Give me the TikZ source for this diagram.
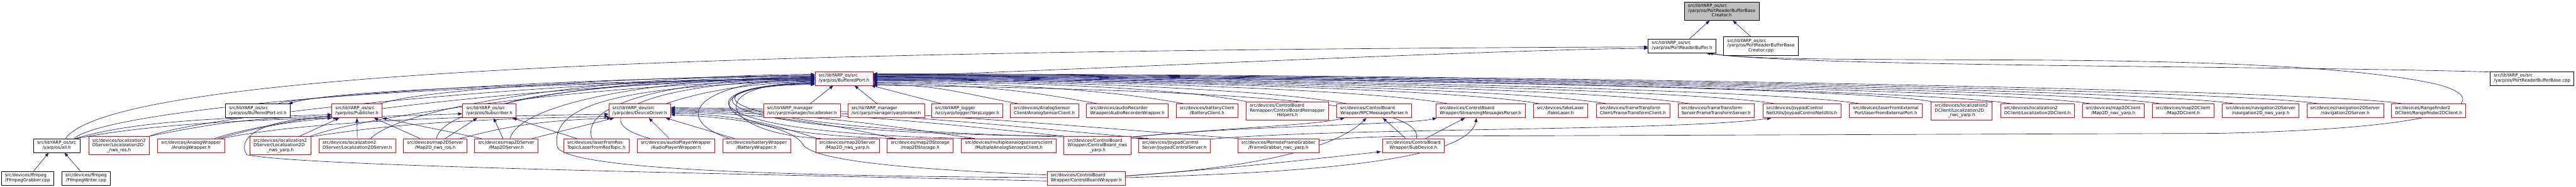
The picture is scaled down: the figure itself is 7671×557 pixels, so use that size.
\documentclass[tikz,border=0pt]{standalone}
\usepackage{fontspec}
\setmainfont{DejaVu Sans}
\usetikzlibrary{arrows.meta,calc}
\pgfdeclarelayer{bg}
\pgfsetlayers{bg,main}
\definecolor{navy}{HTML}{191970}
\definecolor{rootgray}{HTML}{BFBFBF}
\newcommand{\twol}[2]{\begin{tabular}{@{}l@{}}#1\\\multicolumn{1}{@{}c@{}}{#2}\end{tabular}}
\newcommand{\thrl}[3]{\begin{tabular}{@{}l@{}}#1\\#2\\\multicolumn{1}{@{}c@{}}{#3}\end{tabular}}
\newcommand{\fanR}[4]{\draw[e] ($(#1.north west)+(#2,0)$) .. controls +(-200,-38) and +(#3,2) .. (bp.#4);}
\tikzset{
  box/.style={draw=red, line width=1.3pt, fill=white, inner xsep=11pt, inner ysep=6.5pt,
    font=\fontsize{13}{14}\selectfont},
  blk/.style={box, draw=black},
  rootbox/.style={box, draw=black, fill=rootgray},
  e/.style={draw=navy, line width=1.2pt, -{Triangle[length=12pt,width=9pt]}},
}
\begin{document}
\begin{tikzpicture}[x=1pt,y=-1pt]
\useasboundingbox (0,0) rectangle (7671,557);
% ---------- nodes ----------
\node[rootbox] (creatorh) at (5127,33) {\thrl{src/libYARP\_os/src}{/yarp/os/PortReaderBufferBase}{Creator.h}};
\node[blk] (prb) at (5009,137) {\twol{src/libYARP\_os/src}{/yarp/os/PortReaderBuffer.h}};
\node[blk] (creatorcpp) at (5244,137) {\thrl{src/libYARP\_os/src}{/yarp/os/PortReaderBufferBase}{Creator.cpp}};
\node[box] (bp) at (2513.5,234) {\twol{src/libYARP\_os/src}{/yarp/os/BufferedPort.h}};
\node[blk] (prbbcpp) at (7540,234) {\twol{src/libYARP\_os/src}{/yarp/os/PortReaderBufferBase.cpp}};
% row 3
\node[blk] (bpinl) at (768,331) {\twol{src/libYARP\_os/src}{/yarp/os/BufferedPort-inl.h}};
\node[box] (pub) at (1063,331) {\twol{src/libYARP\_os/src}{/yarp/os/Publisher.h}};
\node[box] (sub) at (1457,331) {\twol{src/libYARP\_os/src}{/yarp/os/Subscriber.h}};
\node[box] (dd) at (1905,331) {\twol{src/libYARP\_dev/src}{/yarp/dev/DeviceDriver.h}};
\node[box] (lbroker) at (2388,331) {\twol{src/libYARP\_manager}{/src/yarp/manager/localbroker.h}};
\node[box] (ybroker) at (2639,331) {\twol{src/libYARP\_manager}{/src/yarp/manager/yarpbroker.h}};
\node[box] (ylogger) at (2880,331) {\twol{src/libYARP\_logger}{/src/yarp/logger/YarpLogger.h}};
\node[box] (asclient) at (3110,331) {\twol{src/devices/AnalogSensor}{Client/AnalogSensorClient.h}};
\node[box] (audiorec) at (3357,331) {\twol{src/devices/audioRecorder}{Wrapper/AudioRecorderWrapper.h}};
\node[box] (battclient) at (3594.5,331) {\twol{src/devices/batteryClient}{/BatteryClient.h}};
\node[box] (cbrh) at (3833.5,331) {\thrl{src/devices/ControlBoard}{Remapper/ControlBoardRemapper}{Helpers.h}};
\node[box] (rpc) at (4092,331) {\twol{src/devices/ControlBoard}{Wrapper/RPCMessagesParser.h}};
\node[box] (stream) at (4409,331) {\twol{src/devices/ControlBoard}{Wrapper/StreamingMessagesParser.h}};
\node[box] (fakelaser) at (4647,331) {\twol{src/devices/fakeLaser}{/fakeLaser.h}};
\node[box] (ftclient) at (4862.5,331) {\twol{src/devices/frameTransform}{Client/FrameTransformClient.h}};
\node[box] (ftserver) at (5110.5,331) {\twol{src/devices/frameTransform}{Server/FrameTransformServer.h}};
\node[box] (joynet) at (5365.5,331) {\twol{src/devices/JoypadControl}{NetUtils/JoypadControlNetUtils.h}};
\node[box] (laserext) at (5616,331) {\twol{src/devices/laserFromExternal}{Port/laserFromExternalPort.h}};
\node[box] (locnwc) at (5841,331) {\thrl{src/devices/localization2}{DClient/Localization2D}{\_nwc\_yarp.h}};
\node[box] (locclient) at (6067,331) {\twol{src/devices/localization2}{DClient/Localization2DClient.h}};
\node[box] (mapnwc) at (6293,331) {\twol{src/devices/map2DClient}{/Map2D\_nwc\_yarp.h}};
\node[box] (mapclient) at (6501,331) {\twol{src/devices/map2DClient}{/Map2DClient.h}};
\node[box] (navnws) at (6732,331) {\twol{src/devices/navigation2DServer}{/navigation2D\_nws\_yarp.h}};
\node[box] (navserver) at (6983.5,331) {\twol{src/devices/navigation2DServer}{/navigation2DServer.h}};
\node[box] (rangefinder) at (7232,331) {\twol{src/devices/Rangefinder2}{DClient/Rangefinder2DClient.h}};
% row 4
\node[blk] (allh) at (169,434.5) {\twol{src/libYARP\_os/src}{/yarp/os/all.h}};
\node[box] (locnwsros) at (354.5,434.5) {\thrl{src/devices/localization2}{DServer/Localization2D}{\_nws\_ros.h}};
\node[box] (awrapper) at (569,434.5) {\twol{src/devices/AnalogWrapper}{/AnalogWrapper.h}};
\node[box] (locnwsyarp) at (834.5,434.5) {\thrl{src/devices/localization2}{DServer/Localization2D}{\_nws\_yarp.h}};
\node[box] (locserver) at (1064,434.5) {\twol{src/devices/localization2}{DServer/Localization2DServer.h}};
\node[box] (mapnwsros) at (1296,434.5) {\twol{src/devices/map2DServer}{/Map2D\_nws\_ros.h}};
\node[box] (mapserver) at (1508,434.5) {\twol{src/devices/map2DServer}{/Map2DServer.h}};
\node[box] (laserros) at (1776,434.5) {\twol{src/devices/laserFromRos}{Topic/LaserFromRosTopic.h}};
\node[box] (aplayer) at (2013,434.5) {\twol{src/devices/audioPlayerWrapper}{/AudioPlayerWrapper.h}};
\node[box] (bwrapper) at (2253,434.5) {\twol{src/devices/batteryWrapper}{/BatteryWrapper.h}};
\node[box] (mapnwsyarp) at (2523.5,434.5) {\twol{src/devices/map2DServer}{/Map2D\_nws\_yarp.h}};
\node[box] (mapstorage) at (2740,434.5) {\twol{src/devices/map2DStorage}{/map2DStorage.h}};
\node[box] (masclient) at (3004,434.5) {\twol{src/devices/multipleanalogsensorsclient}{/MultipleAnalogSensorsClient.h}};
\node[box] (cbnws) at (3268,434.5) {\thrl{src/devices/ControlBoard}{Wrapper/ControlBoard\_nws}{\_yarp.h}};
\node[box] (joyserver) at (3497,434.5) {\twol{src/devices/JoypadControl}{Server/JoypadControlServer.h}};
\node[box] (fgnwc) at (3807,434.5) {\twol{src/devices/RemoteFrameGrabber}{/FrameGrabber\_nwc\_yarp.h}};
\node[box] (subdev) at (4209,434.5) {\twol{src/devices/ControlBoard}{Wrapper/SubDevice.h}};
% row 5
\node[blk] (ffgrab) at (82,532) {\twol{src/devices/ffmpeg}{/FfmpegGrabber.cpp}};
\node[blk] (ffwrite) at (256.5,532) {\twol{src/devices/ffmpeg}{/FfmpegWriter.cpp}};
\node[box] (cbwrapper) at (3235,532) {\twol{src/devices/ControlBoard}{Wrapper/ControlBoardWrapper.h}};
% ---------- edges ----------
\begin{pgfonlayer}{bg}
\fill[white] (0,0) rectangle (7671,557);
% root
\draw[e] ($(prb.north)+(22,0)$) -- ($(creatorh.south)+(-36,0)$);
\draw[e] ($(creatorcpp.north)+(-31,0)$) -- ($(creatorh.south)+(33,0)$);
% to PortReaderBuffer
\draw[e] ($(allh.north)+(26,0)$) .. controls (350,200) and (2400,150) .. ($(prb.west)+(0,3)$);
\draw[e] ($(bp.east)+(0,-5)$) .. controls (3300,205) and (4400,150) .. ($(prb.west)+(0,7)$);
\draw[e] ($(prbbcpp.north west)+(0,2)$) .. controls (6800,196) and (5350,200) .. ($(prb.south)+(72,0)$);
\draw[e] ($(fgnwc.east)+(0,-15)$) .. controls (4020,412) and (4080,406) .. (4300,406) -- (6600,398)
  .. controls (7390,382) and (7420,290) .. (7250,250) .. controls (7000,195) and (6500,181) .. (6000,179)
  .. controls (5500,177) and (5200,178) .. ($(prb.south)+(80,0)$);
% BufferedPort <-> BufferedPort-inl
\draw[e] ($(bp.west)+(0,-2)$) .. controls (1600,250) and (1000,268) .. ($(bpinl.north east)+(-6,0)$);
\draw[e] ($(bpinl.north east)+(-38,0)$) .. controls (900,282) and (1700,246) .. ($(bp.west)+(0,1)$);
% BufferedPort bottom
\draw[e] ($(lbroker.north)+(24,0)$) -- ($(bp.south)+(-32,0)$);
\draw[e] ($(ybroker.north)+(-27,0)$) -- ($(bp.south)+(31,0)$);
\draw[e] ($(ylogger.north west)+(32,0)$) -- ($(bp.south east)+(-6,0)$);
% fan into BufferedPort from the right
\fanR{asclient}{26}{196}{-12}
\fanR{audiorec}{35}{302}{-10}
\fanR{battclient}{25}{418}{-8}
\fanR{cbrh}{0}{500}{-6}
\fanR{rpc}{33}{636}{-4}
\fanR{stream}{37}{771}{-3}
\fanR{fakelaser}{21}{894}{-2}
\fanR{ftclient}{33}{984}{-1}
\fanR{ftserver}{36}{1095}{0}
\fanR{joynet}{38}{1209}{1}
\fanR{laserext}{32}{1323}{2}
\fanR{locnwc}{0}{1418}{3}
\fanR{locclient}{34}{1526}{4}
\fanR{mapnwc}{26}{1632}{5}
\fanR{mapclient}{26}{1726}{6}
\fanR{navnws}{36}{1824}{7}
\fanR{navserver}{36}{1938}{8}
\fanR{rangefinder}{35}{2051}{9}
\draw[e] ($(subdev.north)+(9,0)$) .. controls (4245,300) and (3600,268) .. (bp.-13);
% into BufferedPort from the left
\draw[e] ($(allh.north east)+(-18,0)$) .. controls +(110,-95) and +(-900,2) .. (bp.176);
\draw[e] ($(pub.north east)+(-5,0)$) .. controls +(120,-45) and +(-500,3) .. (bp.174);
\draw[e] ($(sub.north east)+(-30,0)$) .. controls +(100,-40) and +(-350,3) .. (bp.178);
\draw[e] ($(dd.north east)+(-15,0)$) .. controls +(100,-35) and +(-200,5) .. (bp.186);
\draw[e] (locnwsros.north east) .. controls +(150,-60) and +(-800,3) .. (bp.180);
\draw[e] ($(awrapper.north east)+(-30,0)$) .. controls +(200,-70) and +(-700,4) .. (bp.182);
\draw[e] (locnwsyarp.north east) .. controls +(150,-60) and +(-600,4) .. (bp.184);
\draw[e] ($(locserver.north east)+(-75,0)$) .. controls +(100,-100) and +(-600,4) .. (bp.172);
\draw[e] ($(mapnwsros.north)+(4,0)$) .. controls +(20,-120) and +(-500,4) .. (bp.175);
\draw[e] ($(mapserver.north)+(11,0)$) .. controls +(30,-110) and +(-450,4) .. (bp.177);
\draw[e] ($(laserros.north west)+(85,0)$) .. controls +(-40,-110) and +(-400,4) .. (bp.179);
\draw[e] ($(aplayer.north west)+(38,0)$) .. controls +(-220,-60) and +(-500,5) .. (bp.183);
\draw[e] ($(bwrapper.north west)+(20,0)$) .. controls +(-180,-60) and +(-350,5) .. (bp.181);
\draw[e] ($(mapnwsyarp.north west)+(17,0)$) .. controls (2150,400) and (2080,250) .. (bp.188);
\draw[e] ($(mapstorage.north west)+(28,0)$) .. controls (2050,400) and (2060,250) .. (bp.190);
\draw[e] ($(masclient.north west)+(40,0)$) .. controls (2000,400) and (2050,250) .. (bp.191);
\draw[e] (cbnws.north west) .. controls (2000,398) and (2040,252) .. (bp.192);
\draw[e] ($(joyserver.north west)+(30,0)$) .. controls (2000,396) and (2030,254) .. (bp.189);
\draw[e] ($(cbwrapper.west)+(0,-2)$) .. controls (2300,525) and (1700,505) .. (1660,440)
  .. controls (1630,300) and (1900,255) .. (bp.185);
% DeviceDriver
\draw[e] ($(awrapper.north east)+(-10,0)$) .. controls +(250,-50) and +(-500,8) .. (dd.186);
\draw[e] ($(locnwsyarp.north east)+(0,2)$) .. controls +(250,-40) and +(-400,8) .. (dd.190);
\draw[e] ($(mapnwsros.north east)+(-20,0)$) .. controls +(150,-40) and +(-200,8) .. (dd.194);
\draw[e] ($(mapserver.north east)+(-18,0)$) -- ($(dd.south west)+(16,0)$);
\draw[e] ($(aplayer.north)+(-20,0)$) -- ($(dd.south)+(27,0)$);
\draw[e] ($(bwrapper.north west)+(36,0)$) -- ($(dd.south east)+(-15,0)$);
\draw[e] ($(mapnwsyarp.north west)+(5,0)$) .. controls +(-120,-40) and +(200,5) .. (dd.-4);
\draw[e] ($(mapstorage.north west)+(24,0)$) .. controls +(-200,-45) and +(300,6) .. (dd.-2);
\draw[e] ($(masclient.north west)+(40,0)$) .. controls +(-300,-45) and +(400,6) .. (dd.0);
\draw[e] (cbnws.north west) .. controls +(-400,-40) and +(500,6) .. (dd.2);
\draw[e] ($(joyserver.north west)+(30,0)$) .. controls +(-500,-45) and +(600,6) .. (dd.4);
\draw[e] ($(fgnwc.north west)+(2,0)$) .. controls +(-600,-45) and +(700,6) .. (dd.6);
\draw[e] ($(cbwrapper.west)+(0,-10)$) .. controls (2700,505) and (2420,480) .. (2390,430)
  .. controls (2360,380) and (2200,350) .. (dd.-7);
% Publisher
\draw[e] ($(allh.north east)+(-14,0)$) .. controls +(200,-60) and +(-250,10) .. (pub.188);
\draw[e] (locnwsros.north east) .. controls +(250,-50) and +(-200,5) .. (pub.192);
\draw[e] ($(awrapper.north east)+(-20,0)$) .. controls +(150,-40) and +(-150,15) .. (pub.south west);
\draw[e] ($(locnwsyarp.north east)+(-33,0)$) -- ($(pub.south west)+(23,0)$);
\draw[e] (locserver.north) -- (pub.south);
\draw[e] ($(mapnwsros.north west)+(50,0)$) -- ($(pub.south)+(51,0)$);
\draw[e] ($(mapserver.north west)+(21,0)$) -- (pub.south east);
\draw[e] ($(cbwrapper.west)+(0,8)$) .. controls (2000,515) and (900,495) .. (735,462)
  .. controls (705,420) and (760,350) .. (pub.200);
% Subscriber
\draw[e] ($(allh.north east)+(-10,0)$) .. controls +(300,-60) and +(-400,15) .. (sub.186);
\draw[e] ($(mapnwsros.north)+(30,0)$) -- ($(sub.south)+(-36,0)$);
\draw[e] ($(mapserver.north west)+(85,0)$) -- ($(sub.south)+(13,0)$);
\draw[e] ($(laserros.north west)+(39,0)$) -- ($(sub.south east)+(-11,0)$);
% ControlBoard wrapper family
\draw[e] ($(joyserver.north east)+(0,2)$) .. controls (4000,380) and (5000,392) .. ($(joynet.south west)+(26,0)$);
\draw[e] ($(cbnws.north east)+(0,3)$) .. controls (3700,378) and (3900,375) .. ($(rpc.south west)+(24,0)$);
\draw[e] ($(cbnws.north east)+(0,3)$) .. controls (3700,375) and (4200,372) .. ($(stream.south west)+(2,0)$);
\draw[e] ($(subdev.north west)+(70,0)$) -- ($(rpc.south)+(26,0)$);
\draw[e] ($(subdev.north west)+(129,0)$) -- ($(stream.south west)+(86,0)$);
\draw[e] ($(cbwrapper.east)+(0,-7)$) .. controls (3700,500) and (3950,470) .. ($(subdev.south west)+(-4,-3)$);
\draw[e] ($(cbwrapper.east)+(0,-7)$) .. controls (3750,500) and (3980,440) .. ($(rpc.south)+(-23,0)$);
\draw[e] ($(cbwrapper.east)+(0,-2)$) .. controls (3900,515) and (4370,480) .. ($(stream.south)+(-12,0)$);
% all.h
\draw[e] ($(ffgrab.north)+(18,0)$) -- ($(allh.south)+(-24,0)$);
\draw[e] ($(ffwrite.north)+(-17,0)$) -- ($(allh.south)+(23,0)$);
\end{pgfonlayer}
\end{tikzpicture}
\end{document}
